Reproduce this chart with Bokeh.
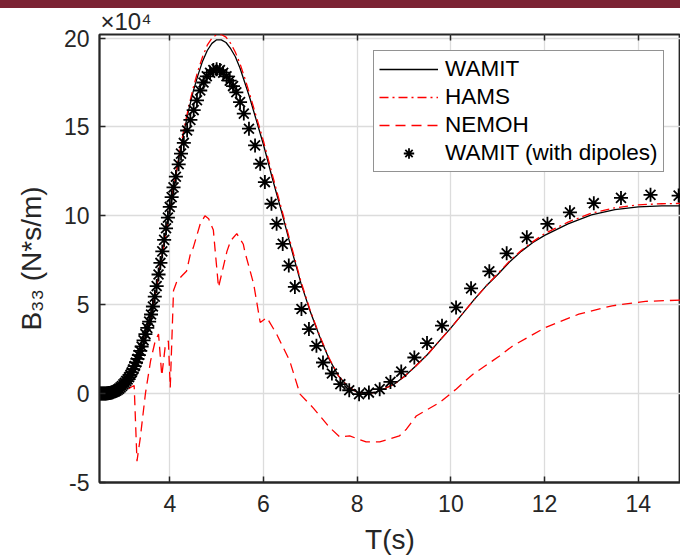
from bokeh.plotting import figure
from bokeh.models import Range1d, FixedTicker, LinearAxis, Legend, LegendItem, Div, Title
from bokeh.layouts import column
from bokeh.embed import file_html
from bokeh.resources import INLINE

# ---- data (B33 in units of 1e4 N*s/m) ----
x_ticks = [4, 6, 8, 10, 12, 14]
y_ticks = [-5, 0, 5, 10, 15, 20]

wamit_T = [2.5, 2.7, 2.9, 3.0, 3.1, 3.2, 3.3, 3.4, 3.5, 3.6, 3.7, 3.8, 3.9, 4.0,
           4.1, 4.2, 4.3, 4.4, 4.5, 4.6, 4.7, 4.8, 4.9, 5.0, 5.1, 5.2, 5.3, 5.4, 5.5,
           5.6, 5.7, 5.8, 5.9, 6.0, 6.2, 6.4, 6.6, 6.8, 7.0, 7.2, 7.4, 7.6, 7.8, 8.0,
           8.2, 8.4, 8.6, 8.8, 9.0, 9.25, 9.5, 9.75, 10.0, 10.25, 10.5, 10.75, 11.0,
           11.25, 11.5, 11.75, 12.0, 12.5, 13.0, 13.5, 14.0, 14.5, 14.9]
wamit_B = [0.0, 0.05, 0.2, 0.35, 0.65, 1.1, 1.75, 2.5, 3.4, 4.45, 5.7, 7.2, 8.7, 10.3,
           11.8, 13.3, 14.7, 15.9, 17.0, 17.9, 18.7, 19.3, 19.7, 19.9, 19.9, 19.75, 19.4,
           18.95, 18.3, 17.5, 16.7, 15.8, 14.9, 14.0, 12.0, 10.1, 8.1, 6.2, 4.6, 3.2,
           1.95, 1.0, 0.4, 0.08, 0.0, 0.08, 0.3, 0.55, 0.95, 1.55, 2.2, 2.95, 3.7, 4.5,
           5.3, 6.05, 6.7, 7.4, 8.0, 8.5, 8.9, 9.55, 10.05, 10.35, 10.5, 10.56, 10.56]

hams_T = list(wamit_T)
hams_B = [-0.05, -0.2, 0.15, 0.35, 0.65, 1.1, 1.75, 2.5, 3.4, 4.45, 5.7, 7.2, 8.75, 10.4,
          11.9, 13.45, 14.85, 16.1, 17.2, 18.15, 18.95, 19.6, 20.0, 20.2, 20.2, 20.05, 19.7,
          19.2, 18.55, 17.75, 16.9, 16.0, 15.1, 14.2, 12.2, 10.25, 8.25, 6.3, 4.65, 3.25,
          2.0, 1.0, 0.4, 0.08, 0.0, 0.08, 0.3, 0.55, 0.95, 1.55, 2.2, 2.95, 3.7, 4.5, 5.3,
          6.05, 6.75, 7.45, 8.05, 8.55, 9.0, 9.65, 10.15, 10.45, 10.62, 10.68, 10.7]

nemoh_T = [2.5, 2.6, 2.7, 2.8, 2.9, 3.0, 3.1, 3.2, 3.24, 3.3, 3.37, 3.48, 3.59, 3.69,
           3.76, 3.83, 3.9, 3.97, 4.01, 4.08, 4.15, 4.25, 4.36, 4.44, 4.5, 4.65, 4.75,
           4.83, 4.93, 4.97, 5.04, 5.22, 5.3, 5.43, 5.57, 5.6, 5.79, 5.93, 6.07, 6.28,
           6.56, 6.78, 7.06, 7.41, 7.63, 7.84, 8.19, 8.48, 8.9, 9.05, 9.26, 9.76, 10.11,
           10.47, 11.03, 11.32, 12.02, 12.73, 13.44, 14.15, 14.9]
nemoh_B = [-0.15, -0.3, -0.2, -0.05, 0.05, 0.15, 0.25, 0.4, 0.45, -3.8, -2.5, 0.0, 1.84,
           2.97, 3.35, 1.0, 2.6, 2.97, 0.34, 5.8, 6.3, 6.6, 6.9, 7.86, 8.2, 9.55, 10.0,
           9.83, 9.2, 8.0, 5.98, 8.0, 8.6, 9.0, 8.4, 8.0, 6.17, 4.0, 4.28, 3.35, 1.84,
           -0.03, -0.8, -1.9, -2.44, -2.38, -2.72, -2.72, -2.38, -2.0, -1.26, -0.5, 0.25,
           1.09, 2.1, 2.69, 3.72, 4.47, 4.94, 5.19, 5.26]

dip_T = [2.50, 2.52, 2.54, 2.56, 2.58, 2.60, 2.62, 2.64, 2.66, 2.68, 2.70, 2.72, 2.74,
         2.76, 2.78, 2.80, 2.83, 2.86, 2.89, 2.92, 2.95, 2.98, 3.01, 3.04, 3.07, 3.10,
         3.13, 3.16, 3.19, 3.22, 3.25, 3.28, 3.31, 3.34, 3.37, 3.40, 3.44, 3.48, 3.52,
         3.56, 3.60, 3.64, 3.68, 3.72, 3.76, 3.80, 3.84, 3.88, 3.92, 3.96, 4.00, 4.04,
         4.08, 4.13, 4.19, 4.24, 4.30, 4.37, 4.44, 4.51, 4.58, 4.65, 4.72, 4.79, 4.86,
         4.93, 5.00, 5.07, 5.14, 5.21, 5.28, 5.35, 5.42, 5.50, 5.58, 5.69, 5.82, 5.93,
         6.03, 6.17, 6.28, 6.41, 6.54, 6.67, 6.81, 6.97, 7.13, 7.27, 7.46, 7.64, 7.83,
         8.04, 8.25, 8.48, 8.71, 8.94, 9.22, 9.49, 9.81, 10.11, 10.43, 10.82, 11.19,
         11.62, 12.06, 12.54, 13.05, 13.63, 14.26, 14.86]
dip_B = [0.0, 0.0, 0.0, 0.0, 0.0, 0.0, 0.01, 0.01, 0.02, 0.02, 0.03, 0.04, 0.05,
         0.06, 0.08, 0.1, 0.13, 0.17, 0.22, 0.28, 0.35, 0.43, 0.52, 0.6, 0.7, 0.8,
         0.92, 1.05, 1.2, 1.37, 1.55, 1.75, 1.95, 2.17, 2.4, 2.65, 3.0, 3.35, 3.7,
         4.05, 4.45, 4.9, 5.45, 6.05, 6.7, 7.35, 8.0, 8.65, 9.3, 9.9, 10.5, 11.05,
         11.6, 12.2, 12.9, 13.5, 14.1, 14.8, 15.4, 15.95, 16.5, 17.05, 17.5, 17.85, 18.05,
         18.2, 18.25, 18.2, 18.05, 17.85, 17.6, 17.3, 16.95, 16.4, 15.75, 14.9, 13.96, 12.93,
         11.9, 10.68, 9.55, 8.42, 7.2, 6.0, 4.76, 3.63, 2.69, 1.75, 1.13, 0.53, 0.19,
         -0.03, 0.06, 0.25, 0.66, 1.24, 2.03, 2.84, 3.82, 4.85, 5.92, 6.88, 7.89,
         8.79, 9.55, 10.2, 10.71, 11.01, 11.18, 11.14]

FONT = "Liberation Sans"
INK = "#262626"

p = figure(width=680, height=560, x_range=Range1d(2.5, 14.9), y_range=Range1d(-5, 20.2),
           output_backend="svg", toolbar_location=None,
           min_border_left=99, min_border_right=0, min_border_top=34, min_border_bottom=78)
p.background_fill_color = "white"
p.border_fill_alpha = 0.0
p.outline_line_color = INK
p.outline_line_width = 1.8

# exponent label above the axes
p.title = Title(text="\u00d710\u2074", align="left", offset=1, standoff=0,
                text_font=FONT, text_font_size="24px", text_font_style="normal",
                text_color=INK)

p.xaxis.ticker = FixedTicker(ticks=x_ticks)
p.yaxis.ticker = FixedTicker(ticks=y_ticks)
p.yaxis.major_label_overrides = {t: str(t) for t in y_ticks}
for ax in (p.xaxis[0], p.yaxis[0]):
    ax.axis_line_color = INK
    ax.axis_line_width = 1.8
    ax.major_tick_line_color = INK
    ax.major_tick_line_width = 1.5
    ax.major_tick_in = 6
    ax.major_tick_out = 0
    ax.minor_tick_line_color = None
    ax.major_label_text_font = FONT
    ax.major_label_text_font_size = "23px"
    ax.major_label_text_color = INK
    ax.axis_label_text_font = FONT
    ax.axis_label_text_font_size = "28px"
    ax.axis_label_text_font_style = "normal"
    ax.axis_label_text_color = INK
p.xaxis.major_label_standoff = 12
p.yaxis.major_label_standoff = 10
p.xaxis.axis_label = "T(s)"
p.xaxis.axis_label_standoff = 9
p.yaxis.axis_label = "B\u2083\u2083 (N*s/m)"
p.yaxis.axis_label_standoff = 14

top = LinearAxis(ticker=FixedTicker(ticks=x_ticks), major_tick_in=6, major_tick_out=0,
                 major_label_overrides={t: "" for t in x_ticks},
                 major_label_text_font_size="1px", major_label_standoff=0,
                 axis_line_color=None, minor_tick_line_color=None,
                 major_tick_line_color=INK, major_tick_line_width=1.5)
p.add_layout(top, "above")

for g in (p.xgrid[0], p.ygrid[0]):
    g.grid_line_color = "#dcdcdc"
    g.grid_line_width = 1.3

r_w = p.line(wamit_T, wamit_B, line_color="black", line_width=1.3)
r_h = p.line(hams_T, hams_B, line_color="#ff0000", line_width=1.3, line_dash="9 4 2 4")
r_n = p.line(nemoh_T, nemoh_B, line_color="#ff0000", line_width=1.3, line_dash="10 6")
r_s = p.scatter(dip_T, dip_B, marker="asterisk", size=14, line_color="black", line_width=1.8)

legend = Legend(items=[LegendItem(label="WAMIT", renderers=[r_w]),
                       LegendItem(label="HAMS", renderers=[r_h]),
                       LegendItem(label="NEMOH", renderers=[r_n]),
                       LegendItem(label="WAMIT (with dipoles)", renderers=[r_s])],
                location=(274, 310), margin=0, padding=5, spacing=2,
                label_height=26, glyph_height=26, glyph_width=59, label_standoff=7,
                label_text_font=FONT, label_text_font_size="22.5px", label_text_color="black",
                border_line_color=INK, border_line_width=1.2,
                background_fill_color="white", background_fill_alpha=1.0)
p.add_layout(legend)

# maroon band across the top of the page; the figure overlaps it (transparent border)
bar = Div(text="", width=680, height=8, margin=(0, 0, -8, 0),
          styles={"background-color": "#7b2334"})
layout = column(bar, p, spacing=0)

open("out.html", "w").write(file_html(layout, INLINE))
